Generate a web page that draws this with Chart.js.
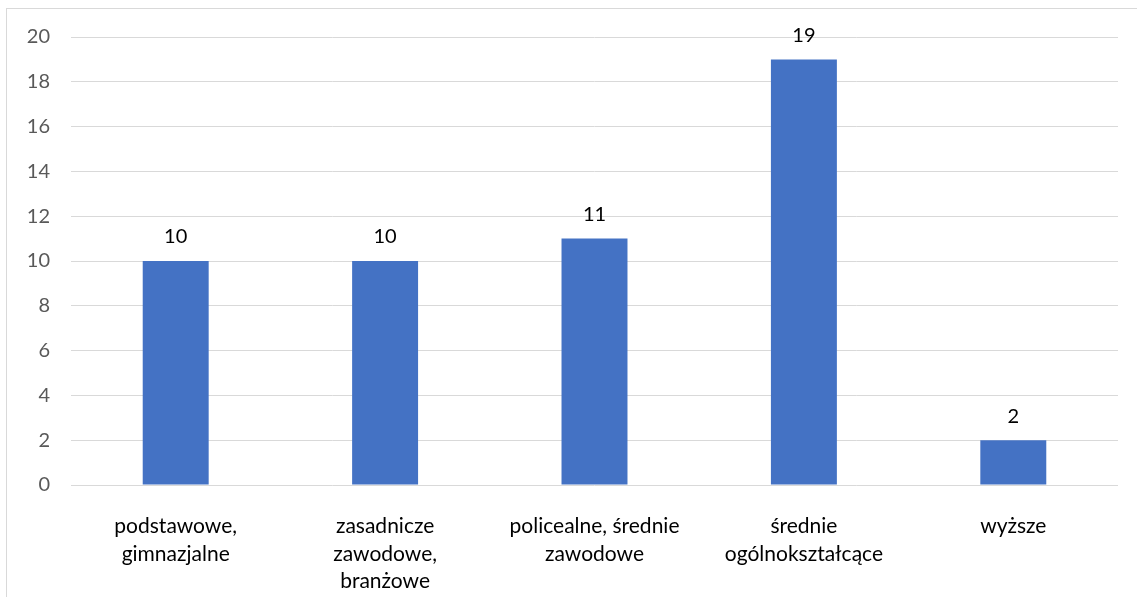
<!DOCTYPE html>
<html lang="pl">
<head>
    <meta charset="UTF-8">
    <title>Wykształcenie</title>
    <script src="https://cdn.jsdelivr.net/npm/chart.js"></script>
    <style>
        body {
            margin: 0;
            background: #fff;
        }
        .frame {
            position: absolute;
            left: 6px;
            top: 8px;
            width: 1140px;
            height: 600px;
            border-top: 1px solid #d9d9d9;
            border-left: 1px solid #d9d9d9;
        }
        .wrap {
            position: absolute;
            left: 0;
            top: 0;
            width: 1137px;
            height: 597px;
        }
    </style>
</head>
<body>
    <div class="frame"></div>
    <div class="wrap"><canvas id="eduChart"></canvas></div>

    <script>
        const categories = [
            ['podstawowe,', 'gimnazjalne'],
            ['zasadnicze', 'zawodowe,', 'branżowe'],
            ['policealne, średnie', 'zawodowe'],
            ['średnie', 'ogólnokształcące'],
            ['wyższe']
        ];
        const counts = [10, 10, 11, 19, 2];
        const yTicks = [0, 2, 4, 6, 8, 10, 12, 14, 16, 18, 20];

        const fontFamily = 'Lato, "Open Sans", sans-serif';

        // simple value labels above bars
        const valueLabels = {
            id: 'valueLabels',
            afterDatasetsDraw(chart) {
                const ctx = chart.ctx;
                const meta = chart.getDatasetMeta(0);
                ctx.save();
                ctx.font = '20px ' + fontFamily;
                ctx.fillStyle = '#000';
                ctx.textAlign = 'center';
                ctx.textBaseline = 'middle';
                meta.data.forEach((bar, i) => {
                    ctx.fillText(String(counts[i]), bar.x, bar.y - 24);
                });
                ctx.restore();
            }
        };

        const ctx = document.getElementById('eduChart').getContext('2d');
        new Chart(ctx, {
            type: 'bar',
            data: {
                labels: categories,
                datasets: [{
                    data: counts,
                    backgroundColor: '#4472c4',
                    borderWidth: 0,
                    categoryPercentage: 0.315,
                    barPercentage: 1
                }]
            },
            options: {
                responsive: true,
                maintainAspectRatio: false,
                animation: false,
                layout: {
                    padding: { left: 0, top: 37, right: 19, bottom: 0 }
                },
                plugins: {
                    legend: { display: false },
                    tooltip: { enabled: false }
                },
                scales: {
                    x: {
                        grid: { display: false },
                        border: { display: false },
                        ticks: {
                            color: '#000',
                            font: { family: fontFamily, size: 21, lineHeight: 1.3 },
                            padding: 20,
                            maxRotation: 0,
                            minRotation: 0,
                            autoSkip: false
                        },
                        afterFit(scale) { scale.height = 112; }
                    },
                    y: {
                        min: 0,
                        max: 20,
                        afterBuildTicks(scale) {
                            scale.ticks = yTicks.map(v => ({ value: v }));
                        },
                        grid: {
                            color: '#d9d9d9',
                            lineWidth: 1,
                            drawTicks: false
                        },
                        border: { display: false },
                        ticks: {
                            color: '#595959',
                            font: { family: fontFamily, size: 20 },
                            padding: 21
                        },
                        afterFit(scale) { scale.width = 71; }
                    }
                }
            },
            plugins: [valueLabels]
        });
    </script>
</body>
</html>
